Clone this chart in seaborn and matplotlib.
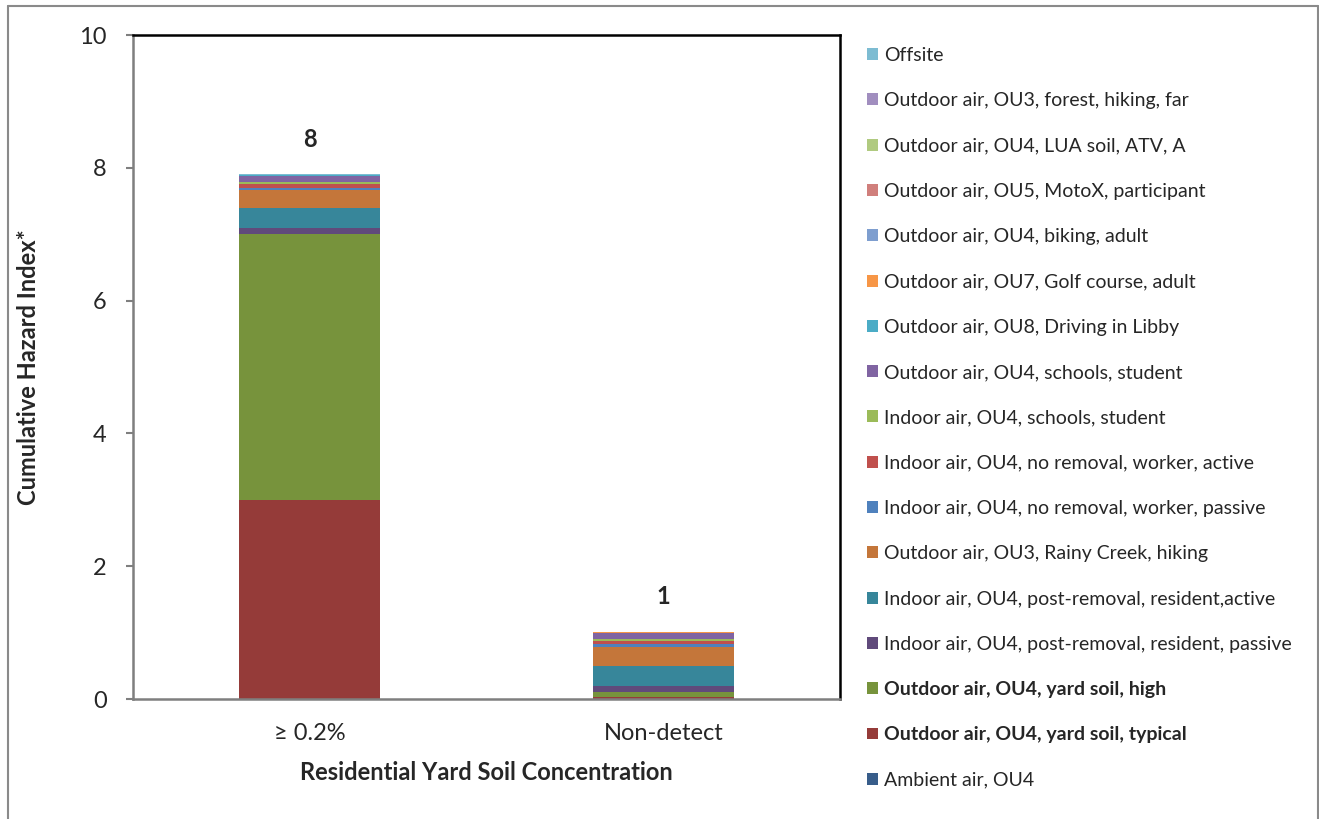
import matplotlib
matplotlib.use("Agg")
import matplotlib.pyplot as plt
from matplotlib.patches import Patch
from matplotlib.lines import Line2D
import numpy as np
import pandas as pd
import seaborn as sns

# Exposure pathways, listed from the bottom of each stack to the top
pathways = [
    "Ambient air, OU4",
    "Outdoor air, OU4, yard soil, typical",
    "Outdoor air, OU4, yard soil, high",
    "Indoor air, OU4, post-removal, resident, passive",
    "Indoor air, OU4, post-removal, resident,active",
    "Outdoor air, OU3, Rainy Creek, hiking",
    "Indoor air, OU4, no removal, worker, passive",
    "Indoor air, OU4, no removal, worker, active",
    "Indoor air, OU4, schools, student",
    "Outdoor air, OU4, schools, student",
    "Outdoor air, OU8, Driving in Libby",
    "Outdoor air, OU7, Golf course, adult",
    "Outdoor air, OU4, biking, adult",
    "Outdoor air, OU5, MotoX, participant",
    "Outdoor air, OU4, LUA soil, ATV, A",
    "Outdoor air, OU3, forest, hiking, far",
    "Offsite",
]
bold_pathways = ["Outdoor air, OU4, yard soil, typical", "Outdoor air, OU4, yard soil, high"]

colors = [
    "#385D8A", "#953B39", "#77933C", "#604A7B", "#37869A", "#C4763A",
    "#4F81BD", "#C0504D", "#9BBB59", "#8064A2", "#4BACC6", "#F79646",
    "#7E9ECF", "#D07F7C", "#B0CA80", "#A18EBF", "#7DBCD2",
]

concentrations = ["\u2265 0.2%", "Non-detect"]

# Hazard index contribution of each pathway, per soil concentration group
hi_high_soil = [0.003, 3.0, 4.0, 0.09, 0.30, 0.28, 0.03, 0.06, 0.03, 0.09,
                0.003, 0.002, 0.002, 0.002, 0.002, 0.003, 0.004]
hi_nondetect = [0.003, 0.03, 0.065, 0.10, 0.30, 0.29, 0.035, 0.05, 0.025, 0.10,
                0.002, 0.002, 0.002, 0.002, 0.002, 0.003, 0.004]
total_labels = ["8", "1"]

values = np.array([hi_high_soil, hi_nondetect])  # (group, pathway)
cumulative = np.cumsum(values, axis=1)

sns.set_style("white")
plt.rcParams["font.family"] = ["Lato", "DejaVu Sans"]

fig = plt.figure(figsize=(13.19, 8.19), dpi=100)
ax = fig.add_axes([133 / 1319, 1 - 699 / 819, (840 - 133) / 1319, (699 - 35) / 819])

# Stacked bars: draw cumulative heights from the top layer down
for i in range(len(pathways) - 1, -1, -1):
    df = pd.DataFrame({"group": concentrations, "hi": cumulative[:, i]})
    sns.barplot(data=df, x="group", y="hi", color=colors[i], width=0.4,
                saturation=1, ax=ax, linewidth=0, errorbar=None)

totals = cumulative[:, -1]
for xi, (tot, lab) in enumerate(zip(totals, total_labels)):
    ax.annotate(lab, (xi, tot), xytext=(0, 25), textcoords="offset points",
                ha="center", va="center", fontsize=17, fontweight="bold")

ax.set_xlim(-0.5, 1.5)
ax.set_ylim(0, 10)
ax.set_yticks(np.arange(0, 11, 2))
ax.set_yticklabels([str(v) for v in range(0, 11, 2)], fontsize=17)
ax.set_xticks([0, 1])
ax.set_xticklabels(concentrations, fontsize=17)
ax.set_xticks([-0.5, 0.5, 1.5], minor=True)
ax.tick_params(axis="x", which="major", length=0, pad=17)
ax.tick_params(axis="x", which="minor", length=5, width=1.5, color="#7f7f7f", direction="out")
ax.tick_params(axis="y", which="major", length=5, width=1.5, color="#7f7f7f",
               direction="out", left=True, pad=14)
ax.set_xlabel("Residential Yard Soil Concentration", fontsize=17, fontweight="bold")
ax.set_ylabel("Cumulative Hazard Index*", fontsize=17, fontweight="bold")
ax.xaxis.set_label_coords(0.5, -0.094)
ax.yaxis.set_label_coords(-0.131, 0.5)

for side in ["left", "bottom"]:
    ax.spines[side].set_color("#7f7f7f")
    ax.spines[side].set_linewidth(1.8)
for side in ["top", "right"]:
    ax.spines[side].set_color("black")
    ax.spines[side].set_linewidth(1.8)
ax.spines["bottom"].set_zorder(5)

# Legend, top entry first
handles = [Patch(facecolor=colors[i], edgecolor="none") for i in range(len(pathways) - 1, -1, -1)]
labels = pathways[::-1]
leg = fig.legend(handles, labels, loc="upper left", bbox_to_anchor=(867 / 1319, 1 - 47 / 819),
                 frameon=False, fontsize=14, labelspacing=1.455, handlelength=0.57,
                 handleheight=0.57, handletextpad=0.31, borderpad=0, borderaxespad=0)
for txt in leg.get_texts():
    if txt.get_text() in bold_pathways:
        txt.set_fontweight("bold")

# Outer chart border
border_kw = dict(color="#8a8a8a", linewidth=1.5, transform=fig.transFigure)
fig.add_artist(Line2D([8 / 1319, 8 / 1319], [0, 1 - 6 / 819], **border_kw))
fig.add_artist(Line2D([8 / 1319, 1318 / 1319], [1 - 6 / 819, 1 - 6 / 819], **border_kw))
fig.add_artist(Line2D([1318 / 1319, 1318 / 1319], [0, 1 - 6 / 819], **border_kw))

fig.savefig("out.png", dpi=100)
